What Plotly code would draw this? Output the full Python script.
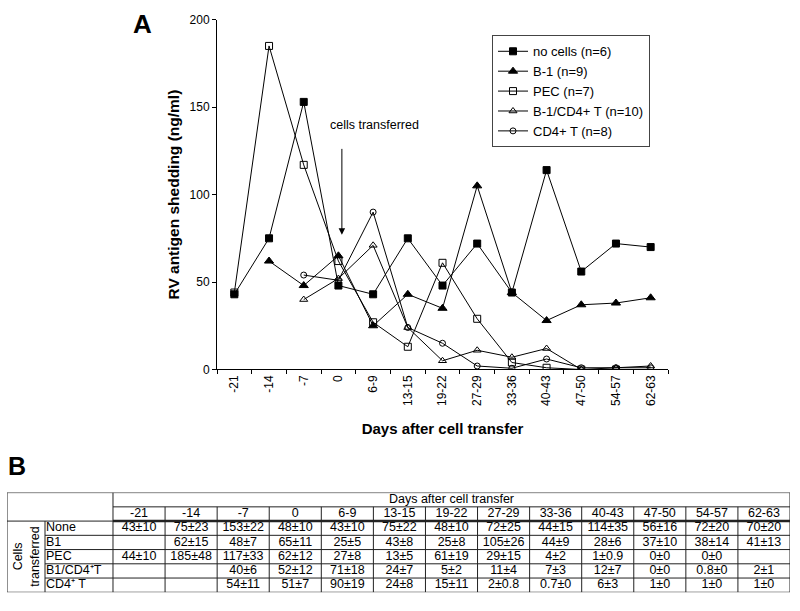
import plotly.graph_objects as go

# ---------------- data ----------------
days = ["-21", "-14", "-7", "0", "6-9", "13-15", "19-22", "27-29", "33-36",
        "40-43", "47-50", "54-57", "62-63"]

no_cells = [43, 75, 153, 48, 43, 75, 48, 72, 44, 114, 56, 72, 70]
b1 = [None, 62, 48, 65, 25, 43, 35, 105, 44, 28, 37, 38, 41]
pec = [44, 185, 117, 62, 27, 13, 61, 29, 4, 1, 0, 0, None]
b1_cd4 = [None, None, 40, 52, 71, 24, 5, 11, 7, 12, 0, 0.8, 2]
cd4 = [None, None, 54, 51, 90, 24, 15, 2, 0.7, 6, 1, 1, 1]

series_names = ["no cells (n=6)", "B-1 (n=9)", "PEC (n=7)",
                "B-1/CD4+ T (n=10)", "CD4+ T (n=8)"]

row_labels = ["None", "B1", "PEC", "B1/CD4\u207aT", "CD4\u207a T"]
tbl_none = ["43±10", "75±23", "153±22", "48±10", "43±10", "75±22", "48±10",
            "72±25", "44±15", "114±35", "56±16", "72±20", "70±20"]
tbl_b1 = ["", "62±15", "48±7", "65±11", "25±5", "43±8", "25±8", "105±26",
          "44±9", "28±6", "37±10", "38±14", "41±13"]
tbl_pec = ["44±10", "185±48", "117±33", "62±12", "27±8", "13±5", "61±19",
           "29±15", "4±2", "1±0.9", "0±0", "0±0", ""]
tbl_b1cd4 = ["", "", "40±6", "52±12", "71±18", "24±7", "5±2", "11±4", "7±3",
             "12±7", "0±0", "0.8±0", "2±1"]
tbl_cd4 = ["", "", "54±11", "51±7", "90±19", "24±8", "15±11", "2±0.8",
           "0.7±0", "6±3", "1±0", "1±0", "1±0"]
table_rows = [tbl_none, tbl_b1, tbl_pec, tbl_b1cd4, tbl_cd4]

# ---------------- helpers ----------------
W, H = 800, 611
FONT = "Arial, Liberation Sans, sans-serif"


def px(x):
    return x / W


def py(y):
    return 1 - y / H


fig = go.Figure()

# ---------------- panel A: line chart ----------------
styles = [
    dict(symbol="square", size=7),
    dict(symbol="triangle-up", size=8),
    dict(symbol="square-open", size=7),
    dict(symbol="triangle-up-open", size=7),
    dict(symbol="circle-open", size=6),
]
for name, vals, st in zip(series_names, [no_cells, b1, pec, b1_cd4, cd4], styles):
    fig.add_trace(go.Scatter(
        x=days, y=vals, name=name, mode="lines+markers",
        line=dict(color="black", width=1),
        marker=dict(symbol=st["symbol"], size=st["size"], color="black",
                    line=dict(color="black", width=1)),
        xaxis="x", yaxis="y", connectgaps=False,
    ))

# ---------------- panel B: table through a hidden axis pair ----------------
LABEL_W = 68 / 52.08
ROT_W = 38 / 52.08
x_left = -LABEL_W - ROT_W

cx, cy, ct = [], [], []
for r, row in enumerate(table_rows):
    for i, t in enumerate(row):
        if t:
            cx.append(i + 0.5)
            cy.append(r + 0.5)
            ct.append(t)
fig.add_trace(go.Scatter(
    x=cx, y=cy, text=ct, mode="text", textposition="middle center",
    textfont=dict(family=FONT, size=12.5, color="black"),
    xaxis="x2", yaxis="y2", showlegend=False, hoverinfo="skip"))

# day labels header
fig.add_trace(go.Scatter(
    x=[i + 0.5 for i in range(len(days))], y=[-0.5] * len(days), text=days,
    mode="text", textposition="middle center",
    textfont=dict(family=FONT, size=12.5, color="black"),
    xaxis="x2", yaxis="y2", showlegend=False, hoverinfo="skip"))

# row labels
fig.add_trace(go.Scatter(
    x=[-LABEL_W + 0.02] * len(row_labels),
    y=[r + 0.5 for r in range(len(row_labels))], text=row_labels,
    mode="text", textposition="middle right",
    textfont=dict(family=FONT, size=12.5, color="black"),
    xaxis="x2", yaxis="y2", showlegend=False, hoverinfo="skip"))

# header title
fig.add_trace(go.Scatter(
    x=[len(days) / 2], y=[-1.5], text=["Days after cell transfer"],
    mode="text", textposition="middle center",
    textfont=dict(family=FONT, size=12.5, color="black"),
    xaxis="x2", yaxis="y2", showlegend=False, hoverinfo="skip"))

nrows = len(table_rows)
ncols = len(days)
shapes = []
LC = "#222222"


def seg(x0, y0, x1, y1, w=1):
    shapes.append(dict(type="line", xref="x2", yref="y2", x0=x0, y0=y0,
                       x1=x1, y1=y1, line=dict(color=LC, width=w)))


# outer box
seg(x_left, -2, ncols, -2)
seg(x_left, nrows, ncols, nrows)
seg(x_left, -2, x_left, nrows)
seg(ncols, -2, ncols, nrows)
# header separators
seg(0, -1, ncols, -1)
seg(x_left, 0, 0, 0)
seg(0, 0, ncols, 0, w=2.5)
# row separators
for r in range(1, nrows):
    seg(-LABEL_W, r, ncols, r)
# column separators
seg(0, -2, 0, nrows)
for i in range(1, ncols):
    seg(i, -1, i, nrows)
seg(-LABEL_W, 0, -LABEL_W, nrows)

annotations = [
    dict(text="<b>A</b>", x=px(131), y=1.0, xref="paper", yref="paper",
         xanchor="left", yanchor="top", showarrow=False,
         font=dict(family=FONT, size=26, color="black")),
    dict(text="<b>B</b>", x=px(6), y=py(470), xref="paper", yref="paper",
         xanchor="left", yanchor="middle", showarrow=False,
         font=dict(family=FONT, size=25, color="black")),
    # arrow
    dict(text="", x=3.1, y=77, xref="x", yref="y", ax=3.1, ay=127,
         axref="x", ayref="y", showarrow=True, arrowhead=2, arrowsize=1.3,
         arrowwidth=1, arrowcolor="black"),
    dict(text="cells transferred", x=4.03, y=140, xref="x", yref="y",
         showarrow=False, font=dict(family=FONT, size=12.5, color="black")),
    # rotated column label in table
    dict(text="Cells<br>transferred", x=x_left + ROT_W / 2, y=nrows / 2,
         xref="x2", yref="y2", showarrow=False, textangle=-90,
         font=dict(family=FONT, size=12.5, color="black")),
]

fig.update_layout(
    width=W, height=H,
    margin=dict(l=0, r=0, t=0, b=0),
    paper_bgcolor="white", plot_bgcolor="white",
    font=dict(family=FONT, color="black"),
    showlegend=True,
    legend=dict(x=px(492), y=py(29), xanchor="left", yanchor="top",
                bordercolor="#444", borderwidth=1, bgcolor="white",
                font=dict(family=FONT, size=13, color="black"),
                tracegroupgap=0, itemwidth=30),
    xaxis=dict(domain=[px(217), px(668)], type="category",
               categoryorder="array", categoryarray=days,
               range=[-0.5, len(days) - 0.5],
               tickangle=-90, ticks="outside", ticklen=4, tickson="boundaries",
               tickcolor="black", showline=True, linecolor="black", linewidth=1,
               showgrid=False, zeroline=False,
               tickfont=dict(family=FONT, size=12, color="black"),
               title=dict(text="<b>Days after cell transfer</b>", standoff=18,
                          font=dict(family=FONT, size=15, color="black")),
               anchor="y"),
    yaxis=dict(domain=[py(371), py(13)], range=[0, 200], dtick=50,
               ticks="outside", ticklen=4, tickcolor="black",
               showline=True, linecolor="black", linewidth=1,
               showgrid=False, zeroline=False,
               tickfont=dict(family=FONT, size=12, color="black"),
               title=dict(text="<b>RV antigen shedding (ng/ml)</b>", standoff=6,
                          font=dict(family=FONT, size=15.5, color="black")),
               anchor="x"),
    xaxis2=dict(domain=[px(7), px(790)], range=[x_left, ncols], visible=False,
                anchor="y2", fixedrange=True),
    yaxis2=dict(domain=[py(599), py(497)], range=[nrows, -2], visible=False,
                anchor="x2", fixedrange=True),
    shapes=shapes,
    annotations=annotations,
)

fig.write_html("out.html", config={"displayModeBar": False},
               post_script="document.body.style.margin='0px';")
